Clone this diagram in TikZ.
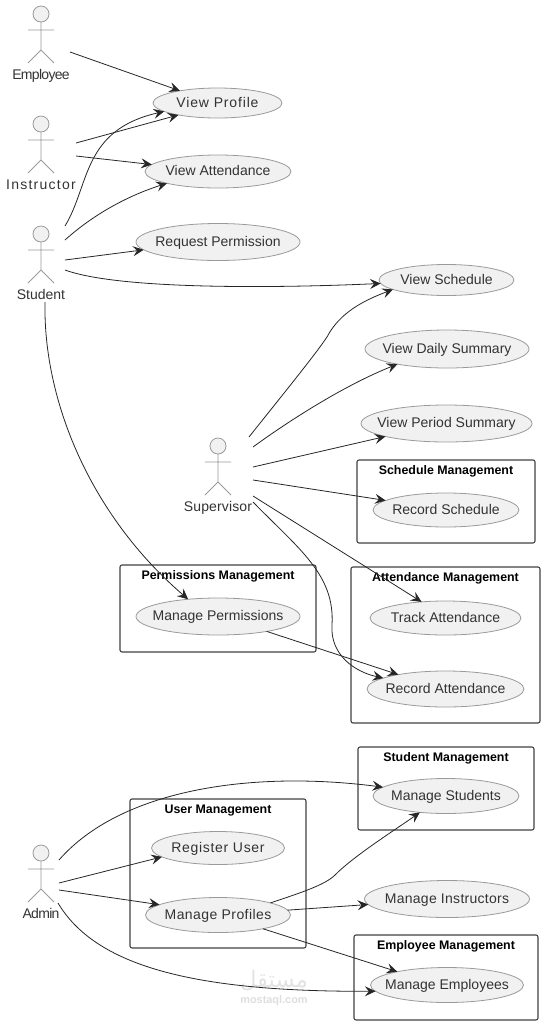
\documentclass[tikz,border=0pt]{standalone}
\usepackage{fontspec}
\setmainfont{Liberation Sans}
\newfontfamily\arabicfont[Script=Arabic]{DejaVu Sans}
\TeXXeTstate=1
\usepackage{xcolor}
\usetikzlibrary{shapes.geometric,arrows.meta,positioning}
\definecolor{ucfill}{HTML}{F1F1F1}
\definecolor{ucline}{HTML}{9A9A9A}
\definecolor{uctext}{HTML}{333333}
\definecolor{arrline}{HTML}{262626}

\newcommand{\actorfig}[4][]{%
  \draw[actorline, fill=ucfill] (#2,#3) circle[radius=8];
  \draw[actorline] (#2,#3+8) -- (#2,#3+36) (#2-13,#3+16) -- (#2+13,#3+16)
    (#2-13,#3+49) -- (#2,#3+36) -- (#2+13,#3+49);
  \node[actorlabel, #1] (#4) at (#2,#3+61) {#4};
}

\begin{document}
\begin{tikzpicture}[
  x=0.75pt, y=-0.75pt,
  every node/.style={font=\fontsize{10.5}{12}\selectfont, text=uctext},
  usecase/.style 2 args={ellipse, draw=ucline, fill=ucfill, line width=0.6pt, inner xsep=-20pt, inner ysep=0pt, outer sep=0pt, text height=7.5pt, text depth=1.5pt, minimum width=#1*0.75pt, minimum height=#2*0.75pt},
  groupbox/.style 2 args={rectangle, draw=black!75, line width=0.8pt, rounded corners=1.5pt, outer sep=0pt, minimum width=#1*0.75pt, minimum height=#2*0.75pt},
  boxtitle/.style={font=\fontsize{9.3}{11}\selectfont\bfseries, text=black},
  actorline/.style={draw=ucline, line width=0.6pt},
  actorlabel/.style={inner sep=0pt, text height=7.5pt, text depth=1.5pt},
  spaced/.style={font=\fontsize{10.5}{12}\selectfont\addfontfeature{LetterSpace=#1}},
  arr/.style={-{Stealth[length=8pt, width=7.5pt, inset=3pt]}, draw=arrline, line width=0.6pt},
]
\useasboundingbox (0,0) rectangle (546,1026);

% watermark
\node[text=black!11, inner sep=0pt, font=\fontsize{17}{17}\arabicfont] (markar) at (274,981) {\beginR مستقل\endR};
\node[text=black!13, inner sep=0pt, font=\fontsize{8.2}{9}\selectfont\bfseries] (markurl) at (274,1001) {mostaql.com};

% actors
\actorfig[spaced=-5]{41}{14}{Employee}
\actorfig[spaced=9]{41}{124}{Instructor}
\actorfig{41}{234}{Student}
\actorfig[spaced=1]{218}{446}{Supervisor}
\actorfig[spaced=-5]{41}{853}{Admin}

% groups
\node[groupbox={178}{83}] (schedulebox) at (446,501.5) {};
\node[groupbox={189}{156}] (attendancebox) at (445.5,645) {};
\node[groupbox={196}{87}] (permissionsbox) at (218,608.5) {};
\node[groupbox={176}{83}] (studentbox) at (446,788.5) {};
\node[groupbox={176}{149}] (userbox) at (218,873.5) {};
\node[groupbox={184}{85}] (employeebox) at (446,977.5) {};
\node[boxtitle] (scheduletitle) at ([yshift=-8.5pt]schedulebox.north) {Schedule Management};
\node[boxtitle] (attendancetitle) at ([yshift=-8.5pt]attendancebox.north) {Attendance Management};
\node[boxtitle] (permissionstitle) at ([yshift=-8.5pt]permissionsbox.north) {Permissions Management};
\node[boxtitle] (studenttitle) at ([yshift=-8.5pt]studentbox.north) {Student Management};
\node[boxtitle] (usertitle) at ([yshift=-8.5pt]userbox.north) {User Management};
\node[boxtitle] (employeetitle) at ([yshift=-8.5pt]employeebox.north) {Employee Management};

% use cases
\node[usecase={129}{30}, spaced=6] (viewprofile) at (217.5,103) {View Profile};
\node[usecase={146}{33}] (viewattendance) at (218,171.5) {View Attendance};
\node[usecase={164}{37}] (requestperm) at (218,242) {Request Permission};
\node[usecase={135}{31}] (viewschedule) at (446.5,280) {View Schedule};
\node[usecase={164}{38}] (viewdaily) at (447,349) {View Daily Summary};
\node[usecase={171}{37}] (viewperiod) at (446.5,423.5) {View Period Summary};
\node[usecase={146}{34}] (recordschedule) at (446,510) {Record Schedule};
\node[usecase={151}{34}] (trackattendance) at (445.5,618) {Track Attendance};
\node[usecase={157}{36}] (recordattendance) at (445.5,689) {Record Attendance};
\node[usecase={164}{37}] (manageperm) at (218,616.5) {Manage Permissions};
\node[usecase={146}{35}] (managestudents) at (446,796) {Manage Students};
\node[usecase={133}{33}, spaced=5] (registeruser) at (218,848) {Register User};
\node[usecase={145}{35}, spaced=3] (manageprofiles) at (218,915) {Manage Profiles};
\node[usecase={165}{37}, spaced=2] (manageinstructors) at (447,899) {Manage Instructors};
\node[usecase={153}{35}] (manageemployees) at (447,985) {Manage Employees};

% free ends beside the actors
\coordinate (employee-a) at (70,52);
\coordinate (instructor-a) at (76,143);
\coordinate (instructor-b) at (76,156);
\coordinate (student-a) at (65,226);
\coordinate (student-b) at (65,240);
\coordinate (student-c) at (65,260);
\coordinate (student-d) at (65,270);
\coordinate (student-e) at (45,302);
\coordinate (supervisor-a) at (249,437);
\coordinate (supervisor-b) at (253,447);
\coordinate (supervisor-c) at (253,467);
\coordinate (supervisor-d) at (253,480);
\coordinate (supervisor-e) at (253,496);
\coordinate (supervisor-f) at (253,502);
\coordinate (admin-a) at (59,860);
\coordinate (admin-b) at (59,883);
\coordinate (admin-c) at (59,890);
\coordinate (admin-d) at (58,903);

\draw[arr] (employee-a) -- (viewprofile.162);
\draw[arr] (instructor-a) -- (viewprofile.197);
\draw[arr] (instructor-b) -- (viewattendance.174);
\draw[arr] (student-a) .. controls (90,185) and (82,130) .. (viewprofile.189);
\draw[arr] (student-b) .. controls (95,213) and (130,195) .. (viewattendance.193);
\draw[arr] (student-c) -- (requestperm.186);
\draw[arr] (student-d) .. controls (120,290) and (280,288) .. (viewschedule.183.5);
\draw[arr] (student-e) .. controls (43,400) and (90,515) .. (manageperm.150);
\draw[arr] (supervisor-a) .. controls (280,398) and (315,355) .. (327,337) .. controls (340,312) and (365,300) .. (viewschedule.190);
\draw[arr] (supervisor-b) .. controls (290,420) and (345,385) .. (viewdaily.197);
\draw[arr] (supervisor-c) -- (viewperiod.192);
\draw[arr] (supervisor-d) -- (recordschedule.171);
\draw[arr] (supervisor-e) -- (trackattendance.146);
\draw[arr] (supervisor-f) .. controls (300,550) and (335,575) .. (332,625) .. controls (330,655) and (355,672) .. (recordattendance.170);
\draw[arr] (manageperm.-17.5) -- (recordattendance.163);
\draw[arr] (admin-a) .. controls (120,790) and (250,770) .. (managestudents.172.5);
\draw[arr] (admin-b) -- (registeruser.189);
\draw[arr] (admin-c) -- (manageprofiles.170);
\draw[arr] (admin-d) .. controls (95,965) and (190,992) .. (manageemployees.185);
\draw[arr] (manageprofiles.13) .. controls (300,893) and (325,885) .. (335,875) .. controls (355,855) and (395,830) .. (managestudents.212);
\draw[arr] (manageprofiles.4) -- (manageinstructors.184);
\draw[arr] (manageprofiles.-17) -- (manageemployees.165);

\end{tikzpicture}
\end{document}
